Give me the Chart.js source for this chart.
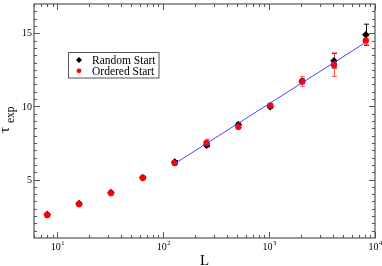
<!DOCTYPE html>
<html lang="en">
<head>
<meta charset="UTF-8">
<title>tau_exp vs L</title>
<script src="https://cdn.jsdelivr.net/npm/chart.js"></script>
<style>
  body { margin: 0; background: #fff; }
  canvas { display: block; }
</style>
</head>
<body>
<canvas id="tauChart" width="382" height="266"></canvas>
<script>
// system sizes
const sizes = [8, 16, 32, 64, 128, 256, 512, 1024, 2048, 4096, 8192];
// random start: tau and error
const tauRandom = [2.6, 3.35, 4.1, 5.12, 6.2, 7.35, 8.75, 9.98, 11.72, 13.12, 14.9];
const errRandom = [0.05, 0.05, 0.05, 0.05, 0.1, 0.12, 0.12, 0.1, 0.15, 0.5, 0.72];
// ordered start: tau and error
const tauOrdered = [2.58, 3.32, 4.08, 5.12, 6.12, 7.5, 8.6, 10.07, 11.7, 12.85, 14.5];
const errOrdered = [0.05, 0.05, 0.05, 0.05, 0.1, 0.25, 0.1, 0.1, 0.33, 0.8, 0.3];
// fitted line
const fitL = [128, 8192];
const fitTau = [6.08, 14.38];

const yMajor = [5, 10, 15];
const xDecades = [10, 100, 1000, 10000];
const xExp = ['1', '2', '3', '4'];

const serif = '"Liberation Serif", "DejaVu Serif", serif';

function pts(xs, ys) {
    return xs.map((x, i) => ({ x: x, y: ys[i] }));
}

const decor = {
    id: 'decor',
    beforeDatasetsDraw(chart) {
        const ctx = chart.ctx, xs = chart.scales.x, ys = chart.scales.y;
        const bars = [[tauRandom, errRandom, '#000'], [tauOrdered, errOrdered, 'rgba(255,60,60,0.85)']];
        ctx.save();
        ctx.lineWidth = 1;
        bars.forEach(([vals, errs, col]) => {
            ctx.strokeStyle = col;
            sizes.forEach((L, i) => {
                const px = Math.round(xs.getPixelForValue(L)) + 0.5;
                const y1 = ys.getPixelForValue(vals[i] + errs[i]);
                const y2 = ys.getPixelForValue(vals[i] - errs[i]);
                ctx.beginPath();
                ctx.moveTo(px, y1); ctx.lineTo(px, y2);
                ctx.moveTo(px - 2.5, y1); ctx.lineTo(px + 2.5, y1);
                ctx.moveTo(px - 2.5, y2); ctx.lineTo(px + 2.5, y2);
                ctx.stroke();
            });
        });
        ctx.restore();
    },
    afterDraw(chart) {
        const ctx = chart.ctx, a = chart.chartArea, xs = chart.scales.x, ys = chart.scales.y;
        ctx.save();
        ctx.strokeStyle = '#555';
        ctx.lineWidth = 1.2;
        ctx.strokeRect(a.left, a.top, a.right - a.left, a.bottom - a.top);

        ctx.lineWidth = 1;
        ctx.beginPath();
        // y ticks, both sides
        for (let v = 1.5; v < 17; v += 0.5) {
            const len = yMajor.includes(v) ? 6 : 3;
            const py = Math.round(ys.getPixelForValue(v)) + 0.5;
            ctx.moveTo(a.left, py); ctx.lineTo(a.left + len, py);
            ctx.moveTo(a.right, py); ctx.lineTo(a.right - len, py);
        }
        // x ticks, top and bottom
        [1, 10, 100, 1000].forEach(d => {
            for (let m = 1; m <= 10; m++) {
                const v = d * m;
                if (v < 6 || v > 10000) continue;
                const len = xDecades.includes(v) ? 6 : 3;
                const px = Math.round(xs.getPixelForValue(v)) + 0.5;
                ctx.moveTo(px, a.bottom); ctx.lineTo(px, a.bottom - len);
                ctx.moveTo(px, a.top); ctx.lineTo(px, a.top + len);
            }
        });
        ctx.stroke();

        // tick labels
        ctx.fillStyle = '#000';
        ctx.font = '10px ' + serif;
        ctx.textAlign = 'right';
        ctx.textBaseline = 'middle';
        yMajor.forEach(v => ctx.fillText(String(v), 32, ys.getPixelForValue(v) + 0.5));

        ctx.textBaseline = 'alphabetic';
        ctx.textAlign = 'left';
        xDecades.forEach((v, i) => {
            const px = xs.getPixelForValue(v);
            ctx.font = '10px ' + serif;
            const w1 = ctx.measureText('10').width;
            ctx.font = '6.5px ' + serif;
            const w2 = ctx.measureText(xExp[i]).width;
            const x0 = px - (w1 + w2) / 2;
            ctx.font = '10px ' + serif;
            ctx.fillText('10', x0, 250);
            ctx.font = '6.5px ' + serif;
            ctx.fillText(xExp[i], x0 + w1 + 0.5, 245);
        });

        // axis titles
        ctx.font = '15px ' + serif;
        ctx.textAlign = 'center';
        ctx.fillText('L', (a.left + a.right) / 2, 265);

        ctx.save();
        ctx.rotate(-Math.PI / 2);
        ctx.textAlign = 'left';
        ctx.font = '15px ' + serif;
        ctx.fillText('τ', -133, 8.5);
        ctx.font = '11.5px ' + serif;
        ctx.fillText('exp', -123, 13.5);
        ctx.restore();

        // legend
        ctx.strokeStyle = '#555';
        ctx.lineWidth = 1;
        ctx.strokeRect(68.5, 52.5, 90.5, 25.5);
        ctx.fillStyle = '#000';
        ctx.beginPath();
        ctx.moveTo(79, 57); ctx.lineTo(82, 60); ctx.lineTo(79, 63); ctx.lineTo(76, 60);
        ctx.closePath(); ctx.fill();
        ctx.fillStyle = '#f00';
        ctx.beginPath(); ctx.arc(79, 70.8, 2.4, 0, Math.PI * 2); ctx.fill();
        ctx.fillStyle = '#000';
        ctx.font = '11.5px ' + serif;
        ctx.textAlign = 'left';
        ctx.textBaseline = 'middle';
        ctx.fillText('Random Start', 92, 60.5);
        ctx.fillText('Ordered Start', 92, 71.5);
        ctx.restore();
    }
};

new Chart(document.getElementById('tauChart'), {
    type: 'scatter',
    data: {
        datasets: [
            {
                label: 'fit',
                type: 'line',
                data: pts(fitL, fitTau),
                borderColor: 'rgb(70,70,255)',
                borderWidth: 1,
                pointRadius: 0,
                fill: false,
                order: 1
            },
            {
                label: 'Random Start',
                data: pts(sizes, tauRandom),
                pointStyle: 'rectRot',
                pointRadius: 3.8,
                backgroundColor: '#000',
                borderColor: '#000',
                borderWidth: 0,
                order: 3
            },
            {
                label: 'Ordered Start',
                data: pts(sizes, tauOrdered),
                pointStyle: 'circle',
                pointRadius: 3.2,
                backgroundColor: '#f00',
                borderColor: '#f00',
                borderWidth: 0,
                order: 2
            }
        ]
    },
    options: {
        responsive: false,
        animation: false,
        layout: { padding: { top: 1, right: 7, left: 0, bottom: 0 } },
        plugins: { legend: { display: false }, tooltip: { enabled: false } },
        scales: {
            x: {
                type: 'logarithmic',
                min: 6,
                max: 10000,
                grid: { display: false },
                border: { display: false },
                ticks: { display: false },
                afterFit: s => { s.height = 28; }
            },
            y: {
                type: 'linear',
                min: 1,
                max: 17,
                grid: { display: false },
                border: { display: false },
                ticks: { display: false },
                afterFit: s => { s.width = 34; }
            }
        }
    },
    plugins: [decor]
});
</script>
</body>
</html>
